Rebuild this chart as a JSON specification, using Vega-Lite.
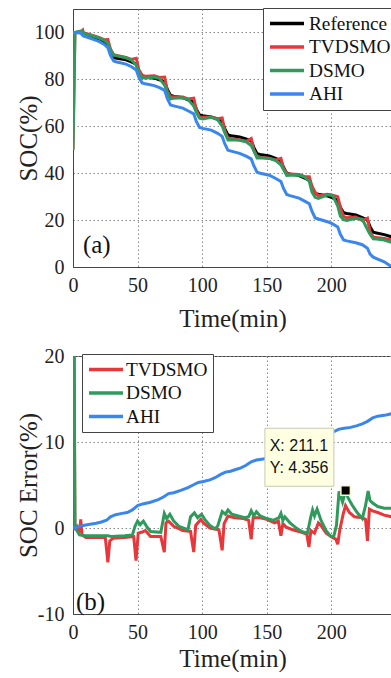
{
  "$schema": "https://vega.github.io/schema/vega-lite/v6.json",
  "bounds": "flush",
  "spacing": 89,
  "padding": {"left": 15, "top": 7, "right": 0, "bottom": 0},
  "background": "white",
  "datasets": {
    "top": [
      {"t":0,"Reference":100,"TVDSMO":50,"DSMO":50,"AHI":100},
      {"t":1.5,"Reference":100,"TVDSMO":100,"DSMO":100,"AHI":100},
      {"t":2,"Reference":100,"TVDSMO":100,"DSMO":100.1,"AHI":99.9},
      {"t":6,"Reference":100,"TVDSMO":100.2,"DSMO":100.6,"AHI":99.8},
      {"t":7.5,"Reference":99.1,"TVDSMO":101,"DSMO":100.2,"AHI":98.8},
      {"t":8,"Reference":98.8,"TVDSMO":99.9,"DSMO":99.7,"AHI":98.5},
      {"t":14,"Reference":97.8,"TVDSMO":98.9,"DSMO":98.7,"AHI":97.35},
      {"t":20,"Reference":96.8,"TVDSMO":97.9,"DSMO":97.7,"AHI":96.2},
      {"t":24,"Reference":95.8,"TVDSMO":96.9,"DSMO":96.7,"AHI":95.0},
      {"t":27,"Reference":94.5,"TVDSMO":97,"DSMO":95.4,"AHI":93.5},
      {"t":29,"Reference":91.5,"TVDSMO":92.9,"DSMO":92.5,"AHI":90.2},
      {"t":31.5,"Reference":89.3,"TVDSMO":90.5,"DSMO":90.3,"AHI":87.8},
      {"t":34,"Reference":89,"TVDSMO":90.2,"DSMO":90,"AHI":87.4},
      {"t":41,"Reference":88.3,"TVDSMO":89.4,"DSMO":89.2,"AHI":86.5},
      {"t":45,"Reference":87.5,"TVDSMO":88.5,"DSMO":88.35,"AHI":85.5},
      {"t":49,"Reference":86.5,"TVDSMO":89,"DSMO":86,"AHI":84.0},
      {"t":51,"Reference":83.5,"TVDSMO":84.1,"DSMO":82.9,"AHI":80.85},
      {"t":53.5,"Reference":81.3,"TVDSMO":81.8,"DSMO":80.7,"AHI":78.5},
      {"t":56,"Reference":81,"TVDSMO":81.3,"DSMO":80.5,"AHI":78.1},
      {"t":63,"Reference":80.5,"TVDSMO":81.5,"DSMO":80.95,"AHI":77.35},
      {"t":67,"Reference":79.8,"TVDSMO":80.8,"DSMO":80.3,"AHI":76.45},
      {"t":71,"Reference":79,"TVDSMO":81,"DSMO":77.4,"AHI":75.3},
      {"t":73,"Reference":75.8,"TVDSMO":75.1,"DSMO":74.6,"AHI":71.9},
      {"t":75.5,"Reference":73.1,"TVDSMO":72.5,"DSMO":71.6,"AHI":69.05},
      {"t":78,"Reference":72.8,"TVDSMO":72.6,"DSMO":72,"AHI":68.7},
      {"t":85,"Reference":72.2,"TVDSMO":72.5,"DSMO":72.15,"AHI":67.75},
      {"t":89,"Reference":71.3,"TVDSMO":71.65,"DSMO":71.5,"AHI":66.6},
      {"t":93.5,"Reference":70.3,"TVDSMO":72,"DSMO":68.6,"AHI":65.3},
      {"t":95.5,"Reference":67.3,"TVDSMO":67,"DSMO":65.9,"AHI":62.1},
      {"t":98,"Reference":64.8,"TVDSMO":63.9,"DSMO":63.4,"AHI":59.5},
      {"t":100.5,"Reference":64.5,"TVDSMO":63.8,"DSMO":63.1,"AHI":59.1},
      {"t":107,"Reference":64,"TVDSMO":64,"DSMO":63.8,"AHI":58.35},
      {"t":112,"Reference":63,"TVDSMO":63.2,"DSMO":62.8,"AHI":57.0},
      {"t":115.5,"Reference":62,"TVDSMO":63.5,"DSMO":60.1,"AHI":55.7},
      {"t":117.5,"Reference":59,"TVDSMO":58.2,"DSMO":57.3,"AHI":52.55},
      {"t":120,"Reference":56.3,"TVDSMO":54.9,"DSMO":54.2,"AHI":49.75},
      {"t":122.5,"Reference":56,"TVDSMO":54.7,"DSMO":54.3,"AHI":49.4},
      {"t":129,"Reference":55.4,"TVDSMO":54.25,"DSMO":54,"AHI":48.45},
      {"t":134,"Reference":54.6,"TVDSMO":53.6,"DSMO":53.35,"AHI":47.3},
      {"t":138,"Reference":53.8,"TVDSMO":54.8,"DSMO":51.8,"AHI":46.1},
      {"t":140,"Reference":51,"TVDSMO":49.8,"DSMO":49.6,"AHI":43.2},
      {"t":142.5,"Reference":48.3,"TVDSMO":47.1,"DSMO":46.5,"AHI":40.4},
      {"t":145,"Reference":48,"TVDSMO":46.8,"DSMO":46.6,"AHI":40.0},
      {"t":152,"Reference":47.3,"TVDSMO":46.35,"DSMO":46.3,"AHI":39.15},
      {"t":157,"Reference":46.3,"TVDSMO":45.65,"DSMO":45.35,"AHI":37.75},
      {"t":161,"Reference":45.3,"TVDSMO":46.3,"DSMO":43.6,"AHI":36.45},
      {"t":163,"Reference":42.5,"TVDSMO":42.1,"DSMO":41.5,"AHI":33.5},
      {"t":165.5,"Reference":40,"TVDSMO":39.9,"DSMO":39,"AHI":30.9},
      {"t":168,"Reference":39.7,"TVDSMO":39.7,"DSMO":39.1,"AHI":30.45},
      {"t":175,"Reference":39,"TVDSMO":39.4,"DSMO":39.2,"AHI":29.35},
      {"t":179,"Reference":38,"TVDSMO":38.6,"DSMO":38.5,"AHI":28.2},
      {"t":183,"Reference":37,"TVDSMO":38.5,"DSMO":36.5,"AHI":26.95},
      {"t":185,"Reference":34,"TVDSMO":34.4,"DSMO":32,"AHI":23.8},
      {"t":187.5,"Reference":31.3,"TVDSMO":31.8,"DSMO":29.7,"AHI":20.9},
      {"t":190,"Reference":31,"TVDSMO":30.4,"DSMO":29.2,"AHI":20.45},
      {"t":197,"Reference":30.3,"TVDSMO":31,"DSMO":30.8,"AHI":19.3},
      {"t":201,"Reference":29.5,"TVDSMO":30.6,"DSMO":30.5,"AHI":18.35},
      {"t":205,"Reference":28.5,"TVDSMO":30,"DSMO":26,"AHI":17.05},
      {"t":207,"Reference":25.5,"TVDSMO":25.5,"DSMO":21.7,"AHI":13.95},
      {"t":209.5,"Reference":23.1,"TVDSMO":21.5,"DSMO":20.2,"AHI":11.5},
      {"t":212,"Reference":22.8,"TVDSMO":21,"DSMO":19.8,"AHI":11.15},
      {"t":219,"Reference":22.2,"TVDSMO":21.3,"DSMO":20.8,"AHI":10.35},
      {"t":224,"Reference":21,"TVDSMO":19.8,"DSMO":20.4,"AHI":9.5},
      {"t":228,"Reference":20,"TVDSMO":20.8,"DSMO":16,"AHI":8},
      {"t":230,"Reference":17.2,"TVDSMO":15,"DSMO":14,"AHI":5.5},
      {"t":232.5,"Reference":14.8,"TVDSMO":12.8,"DSMO":12,"AHI":4.2},
      {"t":235,"Reference":14.5,"TVDSMO":12.6,"DSMO":11.9,"AHI":3.6},
      {"t":241,"Reference":13.8,"TVDSMO":12.2,"DSMO":11.5,"AHI":2.2},
      {"t":247,"Reference":12.8,"TVDSMO":11.5,"DSMO":10.5,"AHI":0}
    ],
    "red": [
      {"t":0,"TVDSMO":50},{"t":1.5,"TVDSMO":0},{"t":3,"TVDSMO":0.2},{"t":5,"TVDSMO":-0.5},{"t":6,"TVDSMO":1.0},{"t":7,"TVDSMO":-0.8},
      {"t":10,"TVDSMO":-1.1},{"t":20,"TVDSMO":-1.1},{"t":25,"TVDSMO":-1.1},{"t":27,"TVDSMO":-4.0},{"t":28.5,"TVDSMO":-1.5},{"t":31,"TVDSMO":-1.2},
      {"t":40,"TVDSMO":-1.1},{"t":47,"TVDSMO":-1.0},{"t":48.8,"TVDSMO":-3.8},{"t":50.5,"TVDSMO":-0.6},{"t":53,"TVDSMO":-0.5},{"t":56,"TVDSMO":-0.3},
      {"t":60,"TVDSMO":-1.0},{"t":68,"TVDSMO":-1.0},{"t":70.7,"TVDSMO":-2.8},{"t":72,"TVDSMO":0.6},{"t":74,"TVDSMO":0.8},{"t":78,"TVDSMO":0.2},
      {"t":85,"TVDSMO":-0.3},{"t":91,"TVDSMO":-0.4},{"t":93.5,"TVDSMO":-2.8},{"t":95,"TVDSMO":0.3},{"t":99,"TVDSMO":1.0},{"t":101,"TVDSMO":0.6},
      {"t":106,"TVDSMO":0},{"t":113,"TVDSMO":-0.2},{"t":115.5,"TVDSMO":-2.6},{"t":117,"TVDSMO":0.5},{"t":120,"TVDSMO":1.4},{"t":125,"TVDSMO":1.2},
      {"t":132,"TVDSMO":1.1},{"t":136,"TVDSMO":0.9},{"t":138,"TVDSMO":-1.3},{"t":139.5,"TVDSMO":1.2},{"t":145,"TVDSMO":1.2},{"t":150,"TVDSMO":1.0},
      {"t":156,"TVDSMO":0.6},{"t":159,"TVDSMO":0.8},{"t":161,"TVDSMO":-0.9},{"t":162.5,"TVDSMO":0.5},{"t":165,"TVDSMO":0.1},{"t":170,"TVDSMO":-0.2},
      {"t":177,"TVDSMO":-0.5},{"t":181,"TVDSMO":-0.7},{"t":182.7,"TVDSMO":-2.2},{"t":184.2,"TVDSMO":-0.3},{"t":187,"TVDSMO":-0.6},{"t":190,"TVDSMO":0.6},
      {"t":192,"TVDSMO":0.3},{"t":196,"TVDSMO":-0.6},{"t":201,"TVDSMO":-1.1},{"t":203.5,"TVDSMO":-1.3},{"t":205,"TVDSMO":-1.9},{"t":206.5,"TVDSMO":-0.3},
      {"t":209,"TVDSMO":1.5},{"t":211,"TVDSMO":2.6},{"t":214,"TVDSMO":1.8},{"t":218,"TVDSMO":1.3},{"t":224,"TVDSMO":1.2},{"t":226.5,"TVDSMO":1.0},
      {"t":228,"TVDSMO":-1.5},{"t":229.5,"TVDSMO":2.2},{"t":232,"TVDSMO":2.0},{"t":236,"TVDSMO":1.8},{"t":241,"TVDSMO":1.5},{"t":247,"TVDSMO":1.3}
    ],
    "green": [
      {"t":0,"DSMO":50},{"t":1.5,"DSMO":0},{"t":3,"DSMO":-0.3},{"t":5,"DSMO":-0.8},{"t":10,"DSMO":-0.9},{"t":20,"DSMO":-0.9},
      {"t":27,"DSMO":-0.9},{"t":30,"DSMO":-1.0},{"t":40,"DSMO":-0.9},{"t":46,"DSMO":-0.8},{"t":48,"DSMO":0.2},{"t":50,"DSMO":0.8},
      {"t":52,"DSMO":0.4},{"t":54.5,"DSMO":0.8},{"t":57,"DSMO":0.2},{"t":60,"DSMO":-0.4},{"t":68,"DSMO":-0.5},{"t":70.7,"DSMO":1.7},
      {"t":72.5,"DSMO":1.1},{"t":75,"DSMO":1.6},{"t":78,"DSMO":0.8},{"t":82,"DSMO":0.2},{"t":89,"DSMO":-0.2},{"t":91,"DSMO":1.3},
      {"t":94,"DSMO":1.75},{"t":96.5,"DSMO":1.2},{"t":99.5,"DSMO":1.6},{"t":102,"DSMO":1.0},{"t":106,"DSMO":0.3},{"t":110,"DSMO":-0.1},
      {"t":112,"DSMO":0.2},{"t":115.5,"DSMO":1.9},{"t":118,"DSMO":1.6},{"t":120,"DSMO":2.1},{"t":123,"DSMO":1.6},{"t":128,"DSMO":1.4},
      {"t":133,"DSMO":1.2},{"t":136,"DSMO":1.3},{"t":138,"DSMO":2.0},{"t":140,"DSMO":1.4},{"t":142,"DSMO":1.9},{"t":145,"DSMO":1.4},
      {"t":150,"DSMO":1.1},{"t":155,"DSMO":0.9},{"t":159.5,"DSMO":1.2},{"t":161,"DSMO":1.7},{"t":162.5,"DSMO":0.9},{"t":164,"DSMO":1.3},
      {"t":168,"DSMO":0.6},{"t":172,"DSMO":0.1},{"t":177,"DSMO":-0.4},{"t":181.5,"DSMO":-0.6},{"t":184,"DSMO":1.2},{"t":185.5,"DSMO":2.1},
      {"t":187,"DSMO":1.4},{"t":189,"DSMO":2.2},{"t":192,"DSMO":0.9},{"t":196,"DSMO":-0.3},{"t":199.7,"DSMO":-1.0},{"t":202,"DSMO":-0.9},
      {"t":204,"DSMO":0.3},{"t":206,"DSMO":4.27},{"t":208.7,"DSMO":3.0},{"t":211.1,"DSMO":4.356},{"t":213,"DSMO":3.5},{"t":216,"DSMO":2.7},
      {"t":220,"DSMO":1.8},{"t":224,"DSMO":1.1},{"t":226.5,"DSMO":2.6},{"t":228.5,"DSMO":4.3},{"t":230,"DSMO":3.2},{"t":232,"DSMO":2.9},
      {"t":236,"DSMO":2.5},{"t":241,"DSMO":2.3},{"t":247,"DSMO":2.3}
    ],
    "blue": [
      {"t":0,"AHI":0},{"t":3,"AHI":0.1},{"t":8,"AHI":0.3},{"t":12,"AHI":0.4},{"t":18,"AHI":0.55},{"t":22,"AHI":0.7},
      {"t":26,"AHI":0.9},{"t":29,"AHI":1.3},{"t":33,"AHI":1.55},{"t":38,"AHI":1.7},{"t":42,"AHI":1.8},{"t":46,"AHI":2.1},
      {"t":50,"AHI":2.6},{"t":54,"AHI":2.8},{"t":60,"AHI":3.0},{"t":66,"AHI":3.3},{"t":70,"AHI":3.6},{"t":74,"AHI":4.0},
      {"t":78,"AHI":4.1},{"t":84,"AHI":4.4},{"t":89,"AHI":4.7},{"t":93,"AHI":5.0},{"t":97,"AHI":5.3},{"t":101,"AHI":5.4},
      {"t":106,"AHI":5.6},{"t":110,"AHI":5.85},{"t":114,"AHI":6.2},{"t":118,"AHI":6.5},{"t":122,"AHI":6.6},{"t":126,"AHI":6.8},
      {"t":130,"AHI":7.0},{"t":134,"AHI":7.3},{"t":138,"AHI":7.7},{"t":142,"AHI":7.9},{"t":146,"AHI":8.0},{"t":151,"AHI":8.1},
      {"t":155,"AHI":8.4},{"t":159,"AHI":8.7},{"t":163,"AHI":9.0},{"t":167,"AHI":9.2},{"t":171,"AHI":9.5},{"t":176,"AHI":9.7},
      {"t":181,"AHI":9.9},{"t":185,"AHI":10.2},{"t":189,"AHI":10.5},{"t":193,"AHI":10.75},{"t":197,"AHI":11.0},{"t":202,"AHI":11.2},
      {"t":206,"AHI":11.5},{"t":210,"AHI":11.6},{"t":215,"AHI":11.7},{"t":220,"AHI":11.9},{"t":224,"AHI":12.1},{"t":228,"AHI":12.4},
      {"t":232,"AHI":12.8},{"t":236,"AHI":13.0},{"t":241,"AHI":13.1},{"t":247,"AHI":13.3}
    ]
  },
  "vconcat": [
    {
      "width": 319,
      "height": 258,
      "encoding": {
        "x": {"field": "t", "type": "quantitative", "scale": {"domain": [0, 247], "nice": false},
              "axis": {"title": "Time(min)", "values": [0, 50, 100, 150, 200], "labelPadding": 8, "titlePadding": 11}},
        "y": {"field": "v", "type": "quantitative", "scale": {"domain": [0, 110], "nice": false},
              "axis": {"title": "SOC(%)", "values": [0, 20, 40, 60, 80, 100], "labelPadding": 9, "minExtent": 30, "maxExtent": 30, "titlePadding": 2}}
      },
      "layer": [
        {"data": {"name": "top"}, "transform": [{"fold": ["Reference"], "as": ["s", "v"]}],
         "mark": {"type": "line", "strokeWidth": 3, "clip": true},
         "encoding": {"color": {"field": "s", "type": "nominal",
           "scale": {"domain": ["Reference", "TVDSMO", "DSMO", "AHI"], "range": ["#000000", "#e8363a", "#2e9a5c", "#3a86ef"]},
           "legend": {"orient": "none", "legendX": 190, "legendY": -1, "title": null, "symbolType": "M-1,0H3", "symbolSize": 289}}}},
        {"data": {"name": "top"}, "transform": [{"fold": ["TVDSMO"], "as": ["s", "v"]}],
         "mark": {"type": "line", "strokeWidth": 3, "clip": true},
         "encoding": {"color": {"field": "s", "type": "nominal",
           "scale": {"domain": ["Reference", "TVDSMO", "DSMO", "AHI"], "range": ["#000000", "#e8363a", "#2e9a5c", "#3a86ef"]},
           "legend": {"orient": "none", "legendX": 190, "legendY": -1, "title": null, "symbolType": "M-1,0H3", "symbolSize": 289}}}},
        {"data": {"name": "top"}, "transform": [{"fold": ["DSMO"], "as": ["s", "v"]}],
         "mark": {"type": "line", "strokeWidth": 3, "clip": true},
         "encoding": {"color": {"field": "s", "type": "nominal",
           "scale": {"domain": ["Reference", "TVDSMO", "DSMO", "AHI"], "range": ["#000000", "#e8363a", "#2e9a5c", "#3a86ef"]},
           "legend": {"orient": "none", "legendX": 190, "legendY": -1, "title": null, "symbolType": "M-1,0H3", "symbolSize": 289}}}},
        {"data": {"name": "top"}, "transform": [{"fold": ["AHI"], "as": ["s", "v"]}],
         "mark": {"type": "line", "strokeWidth": 3, "clip": true},
         "encoding": {"color": {"field": "s", "type": "nominal",
           "scale": {"domain": ["Reference", "TVDSMO", "DSMO", "AHI"], "range": ["#000000", "#e8363a", "#2e9a5c", "#3a86ef"]},
           "legend": {"orient": "none", "legendX": 190, "legendY": -1, "title": null, "symbolType": "M-1,0H3", "symbolSize": 289}}}},
        {"data": {"values": [{"t": 7.7, "v": 9.3, "txt": "(a)"}]},
         "mark": {"type": "text", "align": "left", "baseline": "middle", "font": "Liberation Serif", "fontSize": 25, "color": "#111"},
         "encoding": {"text": {"field": "txt"}}}
      ]
    },
    {
      "width": 319,
      "height": 258,
      "encoding": {
        "x": {"field": "t", "type": "quantitative", "scale": {"domain": [0, 247], "nice": false},
              "axis": {"title": "Time(min)", "values": [0, 50, 100, 150, 200], "labelPadding": 8, "titlePadding": 4}},
        "y": {"field": "v", "type": "quantitative", "scale": {"domain": [-10, 20], "nice": false},
              "axis": {"title": "SOC Error(%)", "values": [-10, 0, 10, 20], "labelExpr": "datum.value + ''", "labelPadding": 9, "minExtent": 30, "maxExtent": 30, "titlePadding": 2}}
      },
      "layer": [
        {"data": {"name": "red"}, "transform": [{"fold": ["TVDSMO"], "as": ["s", "v"]}],
         "mark": {"type": "line", "strokeWidth": 3, "clip": true},
         "encoding": {"color": {"field": "s", "type": "nominal",
           "scale": {"domain": ["TVDSMO", "DSMO", "AHI"], "range": ["#e8363a", "#2e9a5c", "#3a86ef"]},
           "legend": {"orient": "none", "legendX": 9, "legendY": -2, "title": null, "symbolType": "M-1,0H3", "symbolSize": 289, "labelOffset": 18}}}},
        {"data": {"name": "green"}, "transform": [{"fold": ["DSMO"], "as": ["s", "v"]}],
         "mark": {"type": "line", "strokeWidth": 3, "clip": true},
         "encoding": {"color": {"field": "s", "type": "nominal",
           "scale": {"domain": ["TVDSMO", "DSMO", "AHI"], "range": ["#e8363a", "#2e9a5c", "#3a86ef"]},
           "legend": {"orient": "none", "legendX": 9, "legendY": -2, "title": null, "symbolType": "M-1,0H3", "symbolSize": 289, "labelOffset": 18}}}},
        {"data": {"name": "blue"}, "transform": [{"fold": ["AHI"], "as": ["s", "v"]}],
         "mark": {"type": "line", "strokeWidth": 3, "clip": true},
         "encoding": {"color": {"field": "s", "type": "nominal",
           "scale": {"domain": ["TVDSMO", "DSMO", "AHI"], "range": ["#e8363a", "#2e9a5c", "#3a86ef"]},
           "legend": {"orient": "none", "legendX": 9, "legendY": -2, "title": null, "symbolType": "M-1,0H3", "symbolSize": 289, "labelOffset": 18}}}},
        {"data": {"values": [{"t": 148.6, "t2": 202, "v": 11.6, "v2": 4.85}]},
         "mark": {"type": "rect", "fill": "#ffffe1", "stroke": "#c9c9b4", "strokeWidth": 1},
         "encoding": {"x2": {"field": "t2"}, "y2": {"field": "v2"}}},
        {"data": {"values": [{"t": 152.3, "v": 9.5, "txt": "X: 211.1"}, {"t": 152.3, "v": 6.95, "txt": "Y: 4.356"}]},
         "mark": {"type": "text", "align": "left", "baseline": "middle", "font": "Liberation Sans", "fontSize": 16, "color": "#111"},
         "encoding": {"text": {"field": "txt"}}},
        {"data": {"values": [{"t": 211.1, "v": 4.356}]},
         "mark": {"type": "point", "shape": "square", "filled": true, "size": 90, "color": "#000000", "stroke": "#fff6d0", "strokeWidth": 1.5, "opacity": 1}},
        {"data": {"values": [{"t": 2.3, "v": -8.64, "txt": "(b)"}]},
         "mark": {"type": "text", "align": "left", "baseline": "middle", "font": "Liberation Serif", "fontSize": 25, "color": "#111"},
         "encoding": {"text": {"field": "txt"}}}
      ]
    }
  ],
  "resolve": {"scale": {"color": "independent"}, "legend": {"color": "independent"}},
  "config": {
    "view": {"stroke": "#444444", "strokeWidth": 1},
    "axis": {
      "labelFont": "Liberation Serif", "labelFontSize": 20, "labelColor": "#222222",
      "titleFont": "Liberation Serif", "titleFontSize": 25, "titleFontWeight": "normal", "titleColor": "#222222",
      "grid": true, "gridColor": "#8a8a8a", "gridDash": [1.5, 2.5], "gridWidth": 1, "gridOpacity": 1,
      "ticks": false, "domain": true, "domainColor": "#444444", "labelFlush": false, "labelOverlap": false
    },
    "legend": {
      "labelFont": "Liberation Serif", "labelFontSize": 19.3, "labelColor": "#111111",
      "symbolType": "M-1,0H3", "symbolSize": 289, "symbolStrokeWidth": 3.5,
      "strokeColor": "#444444", "fillColor": "#ffffff", "padding": 5, "rowPadding": 2.5, "labelOffset": 20, "labelLimit": 200
    }
  }
}
